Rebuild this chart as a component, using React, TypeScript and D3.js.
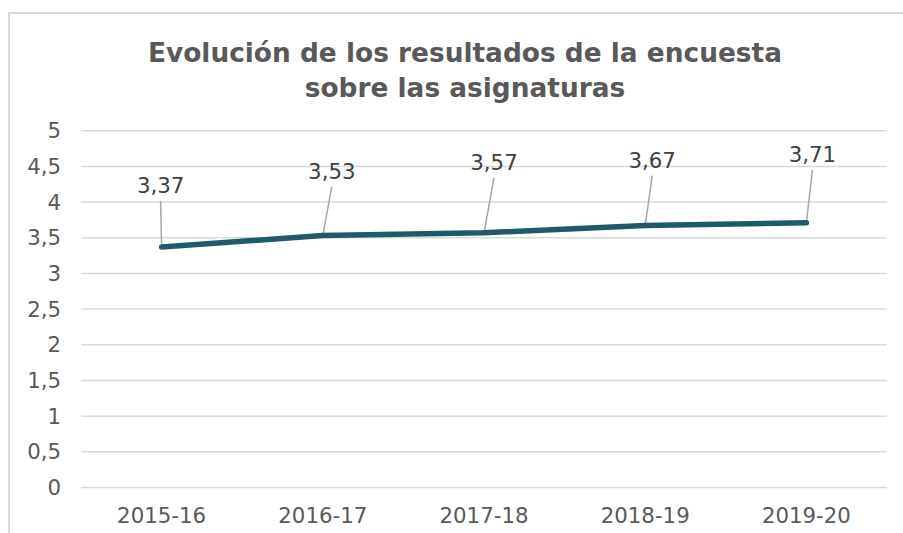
import { useRef, useEffect } from "react";
import * as d3 from "d3";

const categories = ["2015-16", "2016-17", "2017-18", "2018-19", "2019-20"];
const values = [3.37, 3.53, 3.57, 3.67, 3.71];
const yTicks = [0, 0.5, 1, 1.5, 2, 2.5, 3, 3.5, 4, 4.5, 5];
const titleLines = [
    "Evolución de los resultados de la encuesta",
    "sobre las asignaturas",
];
// hand-placed data label offsets (label center / baseline relative to point)
const labelDx = [-1, 9, 10, 7, 6];
const labelDy = [-54, -57, -63, -58, -61];

const fmt = (v: number) => String(v).replace(".", ",");

export default function App() {
    const ref = useRef<SVGSVGElement>(null);

    useEffect(() => {
        if (!ref.current) return;
        const width = 903;
        const height = 533;
        const marginLeft = 81;
        const marginRight = 16;
        const marginTop = 130.7;
        const plotBottom = 487.5;

        const x = d3
            .scaleBand()
            .domain(categories)
            .range([marginLeft, width - marginRight]);

        const y = d3.scaleLinear().domain([0, 5]).range([plotBottom, marginTop]);

        const svg = d3.select(ref.current);
        svg.selectAll("*").remove();
        svg.attr("width", width).attr("height", height);

        // outer chart border (runs off the right / bottom edge)
        svg.append("rect")
            .attr("x", 9)
            .attr("y", 13)
            .attr("width", 960)
            .attr("height", 600)
            .attr("fill", "#fff")
            .attr("stroke", "#d9d9d9")
            .attr("stroke-width", 2);

        // title
        const title = svg
            .append("text")
            .attr("x", 465)
            .attr("y", 62)
            .attr("text-anchor", "middle")
            .attr("font-family", "'DejaVu Sans', Verdana, sans-serif")
            .attr("font-weight", "bold")
            .attr("font-size", 26.4)
            .attr("fill", "#595959");
        title
            .selectAll("tspan")
            .data(titleLines)
            .join("tspan")
            .attr("x", 465)
            .attr("dy", (_, i) => (i === 0 ? 0 : 35))
            .text((d) => d);

        // gridlines
        svg.append("g")
            .selectAll("line")
            .data(yTicks)
            .join("line")
            .attr("x1", marginLeft)
            .attr("x2", width - marginRight)
            .attr("y1", (d) => y(d))
            .attr("y2", (d) => y(d))
            .attr("stroke", "#d9d9d9")
            .attr("stroke-width", 1.5);

        // y labels
        svg.append("g")
            .selectAll("text")
            .data(yTicks)
            .join("text")
            .attr("x", 61)
            .attr("y", (d) => y(d) + 7.5)
            .attr("text-anchor", "end")
            .attr("font-family", "'DejaVu Sans', Verdana, sans-serif")
            .attr("font-size", 21.3)
            .attr("fill", "#595959")
            .text((d) => fmt(d));

        // x labels
        svg.append("g")
            .selectAll("text")
            .data(categories)
            .join("text")
            .attr("x", (d) => x(d)! + x.bandwidth() / 2)
            .attr("y", 522.7)
            .attr("text-anchor", "middle")
            .attr("font-family", "'DejaVu Sans', Verdana, sans-serif")
            .attr("font-size", 21.3)
            .attr("fill", "#595959")
            .text((d) => d);

        const px = (i: number) => x(categories[i])! + x.bandwidth() / 2;

        // leader lines
        svg.append("g")
            .selectAll("line")
            .data(values)
            .join("line")
            .attr("x1", (_, i) => px(i) + labelDx[i])
            .attr("y1", (d, i) => y(d) + labelDy[i] + 8)
            .attr("x2", (_, i) => px(i))
            .attr("y2", (d) => y(d))
            .attr("stroke", "#a6a6a6")
            .attr("stroke-width", 1.5);

        // series line
        const line = d3
            .line<number>()
            .x((_, i) => px(i))
            .y((d) => y(d));
        svg.append("path")
            .datum(values)
            .attr("d", line)
            .attr("fill", "none")
            .attr("stroke", "#1f5a69")
            .attr("stroke-width", 5.5)
            .attr("stroke-linecap", "round")
            .attr("stroke-linejoin", "round");

        // data labels
        svg.append("g")
            .selectAll("text")
            .data(values)
            .join("text")
            .attr("x", (_, i) => px(i) + labelDx[i])
            .attr("y", (d, i) => y(d) + labelDy[i])
            .attr("text-anchor", "middle")
            .attr("font-family", "'DejaVu Sans', Verdana, sans-serif")
            .attr("font-size", 21.3)
            .attr("fill", "#404040")
            .text((d) => fmt(d));
    });

    return (
        <svg
            ref={ref}
            style={{ position: "absolute", left: 0, top: 0, display: "block" }}
        ></svg>
    );
}
